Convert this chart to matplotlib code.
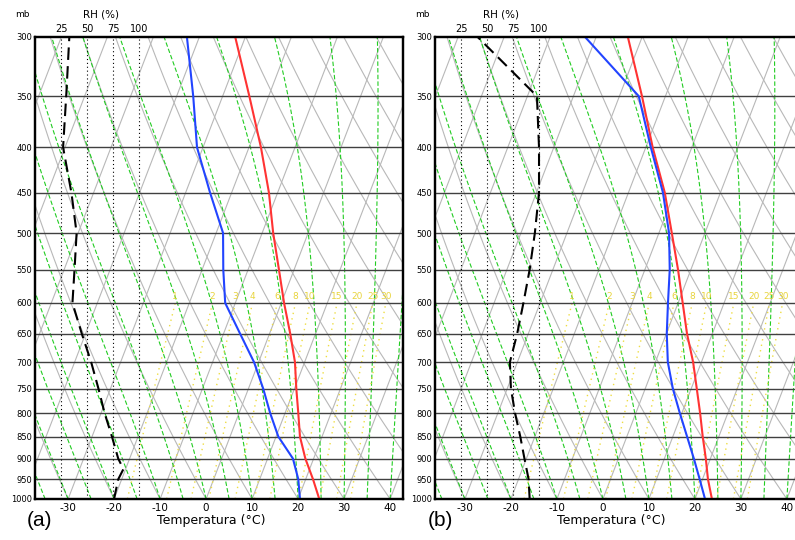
import numpy as np
import matplotlib
matplotlib.use("Agg")
import matplotlib.pyplot as plt

plt.rcParams['font.family'] = ['DejaVu Sans']

# niveis de pressao (mb)
pres = [1000, 950, 900, 850, 800, 750, 700, 650, 600, 550, 500, 450, 400, 350, 300]

# (a) temperatura, ponto de orvalho e UR
temp_a = [24.6, 21.6, 18.2, 15.2, 12.9, 10.4, 7.9, 4.5, 0.6, -3.3, -7.6, -11.9, -17.4, -24.2, -32.2]
dewp_a = [20.4, 18.4, 15.5, 10.5, 6.8, 3.2, -1.0, -6.4, -12.2, -15.4, -18.5, -24.7, -31.3, -36.4, -42.7]
rh_pres_a = [1000, 950, 925, 900, 850, 800, 750, 700, 650, 600, 550, 500, 450, 400, 350, 300]
rh_a = [76, 80, 85, 80, 74, 67, 61, 54, 45, 36, 38, 40, 35, 27, 30, 33]

# (b)
temp_b = [23.7, 21.2, 19.0, 16.5, 14.0, 11.2, 8.2, 4.5, 1.0, -2.8, -7.2, -12.1, -18.5, -25.1, -33.1]
dewp_b = [22.2, 19.4, 16.4, 13.1, 9.6, 6.0, 2.7, 0.1, -2.2, -4.6, -7.8, -12.5, -18.9, -25.8, -42.4]
rh_pres_b = pres
rh_b = [91, 90, 86, 82, 77, 73, 72, 79, 85, 91, 96, 100, 100, 98, 41]

temp_ticks = [-30, -20, -10, 0, 10, 20, 30, 40]
rh_ticks = [25, 50, 75, 100]
mix_ratios = [1, 2, 3, 4, 6, 8, 10, 15, 20, 25, 30]

SKEW = 32.0


def skew(t, p):
    return np.asarray(t) + SKEW * np.log(1000.0 / np.asarray(p))


def moist_adiabat(t0, p):
    Rd, cp, Lv = 287.0, 1005.0, 2.5e6
    T = t0 + 273.15
    out = [T]
    for i in range(1, len(p)):
        es = 6.112 * np.exp(17.67 * (T - 273.15) / (T - 29.65))
        rs = 0.622 * es / (p[i - 1] - es)
        dtdp = (Rd * T + Lv * rs) / (p[i - 1] * (cp + Lv ** 2 * rs * 0.622 / (Rd * T ** 2)))
        T = T + dtdp * (p[i] - p[i - 1])
        out.append(T)
    return np.array(out) - 273.15


def dewpoint_from_w(w, p):
    e = w * p / (622.0 + w)
    a = np.log(e / 6.112)
    return 243.5 * a / (17.67 - a)


def skewt(rect, xlim, temp, dewp, rh_pres, rh, letter):
    ax = fig.add_axes(rect)
    ax.set_yscale('log')
    ax.set_ylim(1000, 300)
    ax.set_xlim(*xlim)

    pp = np.linspace(1000, 300, 200)
    # isotermas e adiabaticas secas
    for t in range(-130, 50, 10):
        ax.plot(skew(np.full_like(pp, t), pp), pp, color='#b8b8b8', lw=0.8, zorder=1)
    for th in range(-40, 190, 10):
        tt = (th + 273.15) * (pp / 1000.0) ** 0.2857 - 273.15
        ax.plot(skew(tt, pp), pp, color='#b8b8b8', lw=0.8, zorder=1)
    # adiabaticas umidas
    for t0 in range(-35, 50, 5):
        tt = moist_adiabat(t0, pp)
        ax.plot(skew(tt, pp), pp, color='#22cc22', lw=0.8, dashes=(4, 2), zorder=2)
    # razao de mistura
    pm = np.linspace(1000, 600, 50)
    for w in mix_ratios:
        td = dewpoint_from_w(w, pm)
        ax.plot(skew(td, pm), pm, color='#eedd44', lw=1.0, ls=(0, (1, 3)), zorder=2)
        ax.text(skew(dewpoint_from_w(w, 600.0), 600.0), 590, str(w), color='#e8d43c',
                fontsize=6.5, ha='center', va='center', clip_on=True, zorder=3)

    for p in range(350, 1000, 50):
        ax.axhline(p, color='#404040', lw=1.0, zorder=3)

    ax.plot(skew(temp, pres), pres, color='#ff3333', lw=1.5, zorder=5)
    ax.plot(skew(dewp, pres), pres, color='#2244ff', lw=1.5, zorder=5)

    ax.set_yticks(pres)
    ax.set_yticklabels([str(p) for p in pres])
    ax.yaxis.set_minor_locator(matplotlib.ticker.NullLocator())
    ax.set_xticks(temp_ticks)
    ax.set_xticklabels([str(t) for t in temp_ticks])
    ax.tick_params(axis='y', length=0, pad=2, labelsize=6)
    ax.tick_params(axis='x', length=0, pad=3, labelsize=7.5)
    ax.set_xlabel('Temperatura (°C)', fontsize=9)
    ax.xaxis.set_label_coords(0.48, -0.047)
    ax.xaxis.label.set_va('center')
    for s in ax.spines.values():
        s.set_linewidth(1.6)

    # eixo de umidade relativa
    ax2 = ax.twiny()
    ax2.set_xlim(0, 353.8)
    for r in rh_ticks:
        ax2.axvline(r, color='black', lw=0.8, ls=(0, (1, 2.5)), zorder=4)
    ax2.plot(rh, rh_pres, color='black', lw=1.5, dashes=(6, 3), zorder=6)
    ax2.set_xticks(rh_ticks)
    ax2.set_xticklabels([str(r) for r in rh_ticks])
    ax2.tick_params(axis='x', length=0, pad=2, labelsize=7)
    ax2.text(63, 1.048, 'RH (%)', transform=ax2.get_xaxis_transform(),
             fontsize=7.5, ha='center', va='center')
    ax2.text(-0.035, 1.048, 'mb', transform=ax2.transAxes, fontsize=6.5,
             ha='center', va='center')
    for s in ax2.spines.values():
        s.set_linewidth(1.6)

    fig.text(rect[0] + 5 / 795, 1 - 520 / 540, letter, fontsize=15,
             family='Liberation Sans', ha='center', va='center')
    return ax


fig = plt.figure(figsize=(7.95, 5.40), dpi=100)
H = 462 / 540
B = 1 - 499 / 540
skewt([35 / 795, B, 368 / 795, H], (-37.2, 42.8), temp_a, dewp_a, rh_pres_a, rh_a, '(a)')
skewt([435 / 795, B, 368 / 795, H], (-36.5, 43.5), temp_b, dewp_b, rh_pres_b, rh_b, '(b)')

fig.savefig('out.png', dpi=100)
